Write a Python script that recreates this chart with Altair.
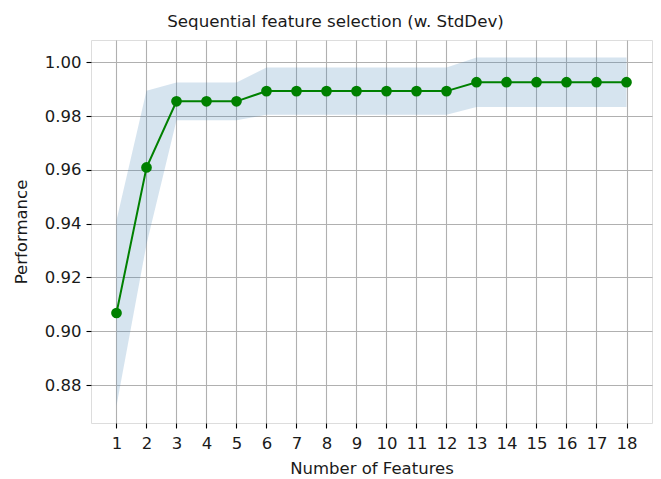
import altair as alt
import pandas as pd

n_features = list(range(1, 19))
avg_score = [0.9068, 0.9609, 0.9855, 0.9855, 0.9855,
             0.9893, 0.9893, 0.9893, 0.9893, 0.9893, 0.9893, 0.9893,
             0.9926, 0.9926, 0.9926, 0.9926, 0.9926, 0.9926]
std_dev = [0.0345, 0.0285, 0.0070, 0.0070, 0.0070,
           0.0088, 0.0088, 0.0088, 0.0088, 0.0088, 0.0088, 0.0088,
           0.0092, 0.0092, 0.0092, 0.0092, 0.0092, 0.0092]
y_ticks = [0.88, 0.90, 0.92, 0.94, 0.96, 0.98, 1.00]

df = pd.DataFrame({"n": n_features, "avg": avg_score, "std": std_dev})

FONT = "DejaVu Sans"
FS = 16.5

xscale = alt.Scale(domain=[0.15, 18.85], nice=False, zero=False)
yscale = alt.Scale(domain=[0.8659, 1.0083], nice=False, zero=False)

common = dict(grid=True, gridColor="#b0b0b0", gridWidth=1.1, domain=False,
              tickColor="black", tickSize=5, tickWidth=1.1,
              labelFontSize=FS, labelFont=FONT, labelColor="#1a1a1a",
              titleFont=FONT, titleFontSize=FS, titleFontWeight="normal",
              titleColor="#1a1a1a", labelFlush=False, labelOverlap=False)

xaxis = alt.Axis(values=n_features, title="Number of Features",
                 labelPadding=7, titlePadding=9, **common)
yaxis = alt.Axis(values=y_ticks, format=".2f", title="Performance",
                 labelPadding=5, titlePadding=15, **common)

X = alt.X("n:Q", scale=xscale, axis=xaxis)

base = alt.Chart(df)

band = base.transform_calculate(
    lo="datum.avg - datum.std", hi="datum.avg + datum.std"
).mark_area(color="steelblue", opacity=0.22).encode(
    x=X,
    y=alt.Y("lo:Q", scale=yscale, axis=yaxis),
    y2="hi:Q",
)

line = base.mark_line(color="#008000", strokeWidth=2).encode(
    x=X,
    y=alt.Y("avg:Q", scale=yscale, axis=yaxis),
)

points = base.mark_point(filled=True, color="#008000", opacity=1, size=115).encode(
    x=X,
    y=alt.Y("avg:Q", scale=yscale, axis=yaxis),
)

chart = alt.layer(band, line, points).properties(
    width=561,
    height=383,
    title=alt.TitleParams("Sequential feature selection (w. StdDev)", font=FONT,
                          fontSize=16.7, fontWeight="normal", color="#1a1a1a",
                          anchor="middle", offset=9, dx=-36),
    autosize=alt.AutoSizeParams(type="none"),
    padding={"left": 91, "top": 40, "right": 9, "bottom": 56},
).configure_view(stroke="black", strokeWidth=1.1).configure_axis(
    labelOverlap=False
).configure(background="white")

chart.save("out.html", embed_options={"renderer": "svg", "actions": False})
